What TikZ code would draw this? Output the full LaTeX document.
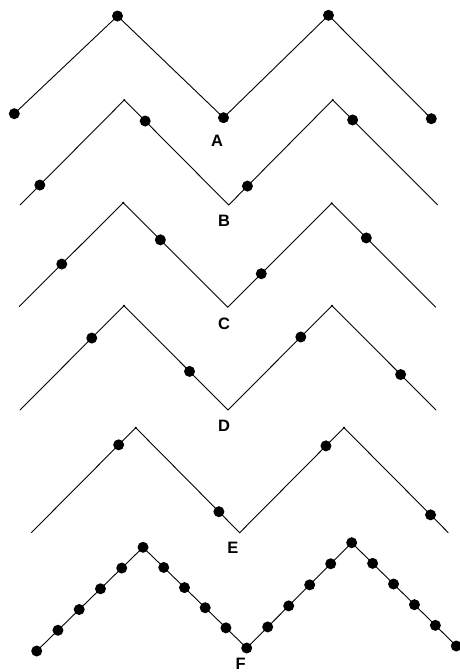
\documentclass[tikz,border=0pt]{standalone}
\usepackage{fontspec}
\setmainfont{Liberation Sans}
\usetikzlibrary{calc}
\begin{document}
\begin{tikzpicture}[x=1pt,y=-1pt,
  zig/.style={line width=0.9pt, line join=miter},
  bead/.style={circle, fill=black, inner sep=0pt, minimum size=11pt},
  knot/.style={circle, fill=black, inner sep=0pt, minimum size=2.2pt},
  lab/.style={font=\bfseries\fontsize{16.5}{16.5}\selectfont, inner sep=0pt}]
\useasboundingbox (0,0) rectangle (459,672);
% ---------- A ----------
\coordinate (a0) at (14.3,113.7);
\coordinate (a1) at (117.5,16);
\coordinate (a2) at (223.5,117.7);
\coordinate (a3) at (328.5,15.3);
\coordinate (a4) at (431.3,118.7);
\draw[zig] (a0) -- (a1) -- (a2) -- (a3) -- (a4);
\foreach \i in {0,...,4} \node[bead] (ad\i) at (a\i) {};
\node[lab] (la) at (217,141.3) {A};
% ---------- B ----------
\coordinate (b0) at (20,205);
\coordinate (b1) at (124.3,100);
\coordinate (b2) at (228.7,205);
\coordinate (b3) at (332.7,100);
\coordinate (b4) at (437.7,205);
\draw[zig] (b0) -- (b1) -- (b2) -- (b3) -- (b4);
\node[knot] (bk1) at (b1) {};
\node[knot] (bk3) at (b3) {};
\node[bead] (bd1) at ($(b0)!0.19!(b1)$) {};
\node[bead] (bd2) at ($(b1)!0.20!(b2)$) {};
\node[bead] (bd3) at ($(b2)!0.18!(b3)$) {};
\node[bead] (bd4) at ($(b3)!0.19!(b4)$) {};
\node[lab] (lb) at (224,221) {B};
% ---------- C ----------
\coordinate (c0) at (19,306.7);
\coordinate (c1) at (123.3,202.7);
\coordinate (c2) at (227.7,307.3);
\coordinate (c3) at (331.7,203.3);
\coordinate (c4) at (435.7,307.3);
\draw[zig] (c0) -- (c1) -- (c2) -- (c3) -- (c4);
\node[knot] (ck1) at (c1) {};
\node[knot] (ck3) at (c3) {};
\node[bead] (cd1) at ($(c0)!0.41!(c1)$) {};
\node[bead] (cd2) at ($(c1)!0.355!(c2)$) {};
\node[bead] (cd3) at ($(c2)!0.323!(c3)$) {};
\node[bead] (cd4) at ($(c3)!0.333!(c4)$) {};
\node[lab] (lc) at (224,323.7) {C};
% ---------- D ----------
\coordinate (d0) at (20,410);
\coordinate (d1) at (124,305.7);
\coordinate (d2) at (228,410);
\coordinate (d3) at (332,305.7);
\coordinate (d4) at (436,410);
\draw[zig] (d0) -- (d1) -- (d2) -- (d3) -- (d4);
\node[knot] (dk1) at (d1) {};
\node[knot] (dk3) at (d3) {};
\node[bead] (dd1) at ($(d0)!0.69!(d1)$) {};
\node[bead] (dd2) at ($(d1)!0.63!(d2)$) {};
\node[bead] (dd3) at ($(d2)!0.70!(d3)$) {};
\node[bead] (dd4) at ($(d3)!0.66!(d4)$) {};
\node[lab] (ld) at (224,425.5) {D};
% ---------- E ----------
\coordinate (e0) at (31.3,532.7);
\coordinate (e1) at (135.7,427.7);
\coordinate (e2) at (239.7,532.7);
\coordinate (e3) at (344,427.7);
\coordinate (e4) at (448.3,532.7);
\draw[zig] (e0) -- (e1) -- (e2) -- (e3) -- (e4);
\node[knot] (ek1) at (e1) {};
\node[knot] (ek3) at (e3) {};
\node[bead] (ed1) at ($(e0)!0.837!(e1)$) {};
\node[bead] (ed2) at ($(e1)!0.80!(e2)$) {};
\node[bead] (ed3) at ($(e2)!0.827!(e3)$) {};
\node[bead] (ed4) at ($(e3)!0.83!(e4)$) {};
\node[lab] (le) at (233,548) {E};
% ---------- F ----------
\coordinate (f0) at (36.7,651);
\coordinate (f1) at (143,547.3);
\coordinate (f2) at (246.7,648);
\coordinate (f3) at (351.7,542.7);
\coordinate (f4) at (456.3,646);
\draw[zig] (f0) -- (f1) -- (f2) -- (f3) -- (f4);
\foreach \s/\t in {0/1,1/2,2/3,3/4}
  \foreach \k in {0,...,4}
    \node[bead] (fd\s\k) at ($(f\s)!\k/5!(f\t)$) {};
\node[bead] (fd44) at (f4) {};
\node[lab] (lf) at (240.7,663.5) {F};
\end{tikzpicture}
\end{document}
